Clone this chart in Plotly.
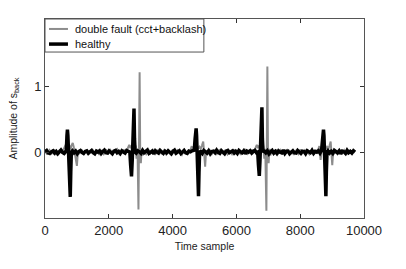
import plotly.graph_objects as go

# ---------------- data ----------------
# healthy signal: evenly sampled baseline stretches + detailed spike stretches
h_base_starts = [0, 860, 2860, 4880, 6870, 8870]
h_base_step = 50
h_base_vals = [
    [0.01, 0.025, -0.01, -0.02, 0.005, 0.02, -0.015, 0.01, -0.025, 0.015, 0.03, -0.005, -0.02, 0.01],
    [0.02, -0.01, 0.015, -0.025, 0.01, 0.025, -0.005, -0.02, 0.01, 0.02, -0.015, 0.005,
     0.025, -0.01, -0.025, 0.015, 0.0, 0.02, -0.02, 0.01, 0.03, -0.01, -0.015, 0.02,
     0.005, -0.025, 0.015, 0.025, -0.01, 0.01, -0.02, 0.02, 0.0, -0.015, 0.025, 0.01],
    [-0.015, 0.02, 0.005, -0.02, 0.025, -0.01, 0.01, 0.03, -0.02, -0.005, 0.015, -0.025,
     0.02, 0.0, -0.015, 0.025, 0.01, -0.02, 0.015, -0.01, 0.02, 0.005, -0.025, 0.01,
     0.03, -0.015, 0.0, 0.02, -0.02, 0.01, 0.025, -0.01, -0.02, 0.015, 0.005, 0.02],
    [0.01, -0.02, 0.025, 0.0, -0.015, 0.02, -0.025, 0.01, 0.015, -0.01, 0.03, -0.005,
     -0.02, 0.02, 0.005, -0.025, 0.015, 0.025, -0.01, 0.0, 0.02, -0.015, 0.01, -0.02,
     0.025, 0.005, -0.01, 0.02, -0.025, 0.015, 0.0, 0.02, -0.015, 0.01, 0.025, -0.01],
    [0.015, -0.01, 0.02, -0.025, 0.005, 0.025, -0.015, 0.01, -0.02, 0.02, 0.0, -0.01,
     0.03, -0.02, 0.01, 0.015, -0.025, 0.005, 0.02, -0.01, -0.015, 0.025, 0.0, -0.02,
     0.015, 0.01, -0.025, 0.02, 0.005, -0.01, 0.025, -0.02, 0.01, 0.0, 0.02, -0.015],
    [0.02, -0.015, 0.01, -0.02, 0.025, 0.0, -0.01, 0.02, -0.025, 0.015, 0.005, -0.02,
     0.025, -0.01, 0.01, -0.015, 0.02, 0.0],
]
h_spike_x = [
    [670, 688, 703, 718, 740, 768, 792, 808, 826],
    [2660, 2685, 2712, 2735, 2762, 2790, 2806, 2825],
    [4680, 4705, 4738, 4752, 4772, 4796, 4812, 4828, 4846],
    [6668, 6692, 6718, 6740, 6768, 6800, 6815, 6835],
    [8670, 8695, 8730, 8745, 8765, 8790, 8805, 8820, 8840],
]
h_spike_y = [
    [0.03, 0.25, 0.34, 0.25, 0.0, -0.30, -0.68, -0.30, 0.0],
    [0.0, -0.20, -0.37, -0.12, 0.20, 0.66, 0.20, 0.0],
    [0.03, 0.20, 0.36, 0.25, 0.0, -0.35, -0.67, -0.30, 0.0],
    [0.0, -0.20, -0.36, -0.12, 0.20, 0.68, 0.20, 0.0],
    [0.03, 0.20, 0.34, 0.25, 0.0, -0.35, -0.67, -0.30, 0.0],
]

# double fault signal
f_base_starts = [0, 1140, 3170, 5160, 7170, 9170]
f_base_step = 70
f_base_vals = [
    [0.02, -0.035, 0.03, -0.02, 0.04, -0.03, 0.015, 0.035],
    [0.04, -0.03, 0.025, -0.04, 0.02, 0.035, -0.025, 0.03, -0.04, 0.015,
     -0.03, 0.04, -0.02, 0.03, -0.035, 0.02, 0.045, -0.03, 0.01, 0.03],
    [-0.03, 0.035, -0.02, 0.03, -0.04, 0.02, 0.04, -0.03, 0.025, -0.035,
     0.015, -0.025, 0.04, -0.02, 0.03, 0.005, -0.04, 0.03, -0.015, 0.025],
    [0.035, -0.03, 0.02, -0.04, 0.025, 0.04, -0.025, 0.03, -0.035, 0.015,
     -0.03, 0.04, -0.02, 0.025, -0.04, 0.02, 0.035, -0.025, 0.01, 0.03],
    [-0.025, 0.04, -0.02, 0.03, -0.035, 0.02, 0.035, -0.03, 0.025, -0.04,
     0.02, -0.03, 0.04, -0.015, 0.03, 0.0, -0.035, 0.03, -0.02, 0.025],
    [-0.03, 0.035, -0.02, 0.03, -0.04, 0.025, 0.01, 0.0],
]
f_spike_x = [
    [560, 600, 640, 680, 720, 760, 800, 830, 870, 900, 935, 965, 1000, 1030, 1070],
    [2560, 2600, 2640, 2680, 2720, 2760, 2800, 2840, 2870, 2900, 2930, 2950, 2966,
     2985, 3005, 3030, 3060, 3100],
    [4560, 4600, 4640, 4680, 4720, 4760, 4800, 4840, 4880, 4920, 4960, 4990, 5020, 5050, 5090],
    [6560, 6600, 6640, 6680, 6720, 6760, 6800, 6840, 6875, 6905, 6940, 6955, 6971,
     6990, 7010, 7035, 7065, 7100],
    [8560, 8600, 8640, 8680, 8720, 8760, 8800, 8840, 8880, 8920, 8955, 8980, 9005, 9035, 9060, 9100],
]
f_spike_y = [
    [0.02, 0.06, 0.10, 0.08, 0.12, 0.10, 0.04, 0.10, 0.14, 0.08, -0.05, -0.08, -0.21, 0.0, -0.03],
    [0.02, 0.08, 0.11, 0.06, 0.10, 0.0, 0.05, 0.10, -0.10, 0.05, -0.87, 0.10, 1.21,
     0.0, -0.17, 0.05, -0.05, 0.02],
    [0.03, 0.09, 0.02, 0.07, 0.05, 0.10, 0.05, 0.08, 0.05, 0.10, 0.16, -0.02, -0.22, 0.02, -0.03],
    [0.02, 0.08, 0.11, 0.06, 0.10, 0.0, 0.05, 0.10, -0.10, 0.05, -0.89, 0.10, 1.30,
     0.0, -0.17, 0.05, -0.05, 0.02],
    [0.03, 0.09, -0.12, 0.07, 0.05, 0.10, 0.05, 0.08, 0.05, 0.10, 0.16, -0.02, -0.20, 0.02, -0.03, 0.02],
]

series_names = ["double fault (cct+backlash)", "healthy"]
x_ticks = [0, 2000, 4000, 6000, 8000, 10000]
x_ticktext = ["0", "2000", "4000", "6000", "8000", "10000"]
y_ticks = [0, 1]


def assemble(base_starts, step, base_vals, spike_x, spike_y):
    pts = []
    for s, vals in zip(base_starts, base_vals):
        pts += [(s + i * step, v) for i, v in enumerate(vals)]
    for xs, ys in zip(spike_x, spike_y):
        pts += list(zip(xs, ys))
    pts.sort()
    return [p[0] for p in pts], [p[1] for p in pts]


healthy_x, healthy_y = assemble(h_base_starts, h_base_step, h_base_vals, h_spike_x, h_spike_y)
fault_x, fault_y = assemble(f_base_starts, f_base_step, f_base_vals, f_spike_x, f_spike_y)

# ---------------- figure ----------------
FONT = "Liberation Sans, Arial, sans-serif"
GRAY = "#8c8c8c"

fig = go.Figure()
fig.add_trace(go.Scatter(
    x=fault_x, y=fault_y, mode="lines", name=series_names[0],
    line=dict(color=GRAY, width=2), showlegend=False,
))
fig.add_trace(go.Scatter(
    x=healthy_x, y=healthy_y, mode="lines", name=series_names[1],
    line=dict(color="#000000", width=3.5), showlegend=False,
))

axis_common = dict(
    showline=True, mirror="ticks", linecolor="#555555", linewidth=1,
    ticks="inside", ticklen=4, tickcolor="#333333", tickwidth=1,
    showgrid=False, zeroline=False, automargin=False,
    tickfont=dict(family=FONT, size=13, color="#222222"),
)

# legend box (drawn as plot decoration in the top-left corner)
L_X0, L_X1, L_Y0, L_Y1 = 0.0, 0.498, 0.834, 1.0
row_y = [0.95, 0.874]
line_styles = [dict(color=GRAY, width=2), dict(color="#000000", width=3.5)]
shapes = [dict(type="rect", xref="paper", yref="paper", x0=L_X0, x1=L_X1, y0=L_Y0, y1=L_Y1,
               line=dict(color="#555555", width=1), fillcolor="white", layer="above")]
annotations = []
for name, ry, st in zip(series_names, row_y, line_styles):
    shapes.append(dict(type="line", xref="paper", yref="paper", x0=0.0125, x1=0.072,
                       y0=ry, y1=ry, line=st, layer="above"))
    annotations.append(dict(text=name, xref="paper", yref="paper", x=0.0878, y=ry,
                            xanchor="left", yanchor="middle", showarrow=False,
                            font=dict(family=FONT, size=11, color="#111111")))

fig.update_layout(
    width=406, height=269,
    margin=dict(l=45, r=42, t=19, b=51),
    paper_bgcolor="white", plot_bgcolor="white",
    font=dict(family=FONT, color="#222222"),
    xaxis=dict(
        range=[0, 10000], tickvals=x_ticks, ticktext=x_ticktext,
        title=dict(text="Time sample", font=dict(size=10.5), standoff=6),
        **axis_common,
    ),
    yaxis=dict(
        range=[-1, 2.02], tickvals=y_ticks,
        title=dict(text="Amplitude of s<sub>back</sub>", font=dict(size=10.5), standoff=14),
        **axis_common,
    ),
    shapes=shapes,
    annotations=annotations,
    showlegend=False,
)

fig.write_html(
    "out.html",
    config={"displayModeBar": False},
    post_script="document.body.style.margin='0';document.body.style.overflow='hidden';",
)
